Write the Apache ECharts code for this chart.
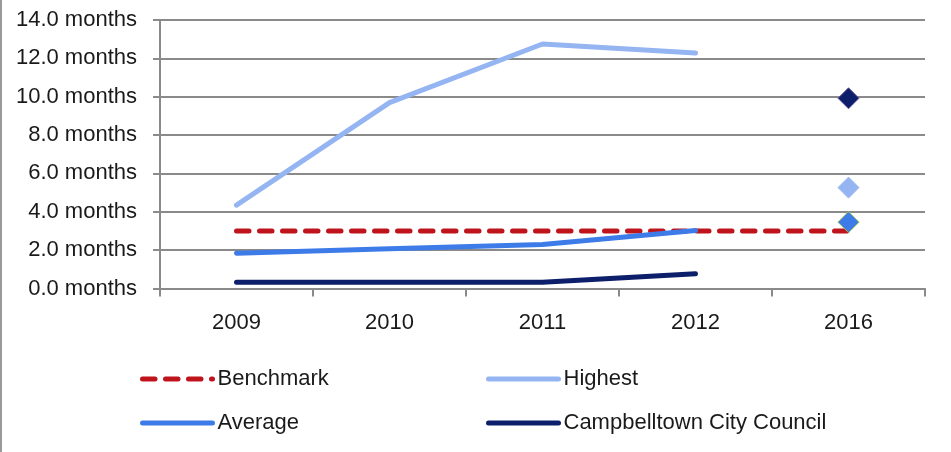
<!DOCTYPE html>
<html>
<head>
<meta charset="utf-8">
<script src="https://cdn.jsdelivr.net/npm/echarts@6/dist/echarts.min.js"></script>
<style>
  html, body { margin: 0; padding: 0; background: #fff; }
  #chart { width: 951px; height: 452px; }
</style>
</head>
<body>
<div id="chart"></div>
<script>
// Years on the category axis
const years = ['2009', '2010', '2011', '2012', '2016'];

// Tick values for the value axis (months)
const yTicks = [0, 2, 4, 6, 8, 10, 12, 14];

// Series values; '-' leaves a category empty so the lines stop at 2012
const benchmark = [3.0, 3.0, 3.0, 3.0, 3.0];
const highest   = [4.35, 9.69, 12.75, 12.28, '-'];
const average   = [1.84, 2.07, 2.30, 3.02, '-'];
const campbell  = [0.32, 0.32, 0.32, 0.77, '-'];

// 2016 values, drawn as single diamond markers
const highest2016  = ['-', '-', '-', '-', 5.26];
const average2016  = ['-', '-', '-', '-', 3.46];
const campbell2016 = ['-', '-', '-', '-', 9.92];

const FONT = '"Liberation Sans", Arial, sans-serif';
const TEXT = '#1a1a1a';
const GRID = '#8a8a8a';
const LINE_W = 5;

const chart = echarts.init(document.getElementById('chart'), null, { renderer: 'canvas' });

function lineSeries(name, data, color, extra) {
  return Object.assign({
    name: name,
    type: 'line',
    data: data,
    symbol: 'none',
    showSymbol: false,
    connectNulls: false,
    color: color,
    lineStyle: { color: color, width: LINE_W, cap: 'round', join: 'round' },
    emphasis: { disabled: true },
    z: 3
  }, extra || {});
}

function diamond(name, data, fill, border) {
  return {
    name: name,
    type: 'scatter',
    data: data,
    symbol: 'diamond',
    symbolSize: 21,
    itemStyle: { color: fill, borderColor: border, borderWidth: 1, opacity: 1 },
    emphasis: { disabled: true },
    z: 5
  };
}

const legendText = { fontFamily: FONT, fontSize: 22, color: TEXT, lineHeight: 22 };

function legendBlock(left, names) {
  return {
    orient: 'vertical',
    left: left,
    top: 368,
    itemWidth: 70,
    itemHeight: 14,
    itemGap: 22,
    padding: 0,
    selectedMode: false,
    textStyle: legendText,
    // line-only keys: hide the marker symbol, keep the series line
    itemStyle: { opacity: 0, borderWidth: 0 },
    lineStyle: { width: LINE_W, cap: 'round' },
    data: names
  };
}

chart.setOption({
  animation: false,
  backgroundColor: '#fff',
  grid: { left: 160, right: 26, top: 20, bottom: 163.5, containLabel: false },
  xAxis: {
    type: 'category',
    data: years,
    boundaryGap: true,
    axisLine: { show: true, lineStyle: { color: GRID, width: 2 } },
    axisTick: { show: true, length: 8, lineStyle: { color: GRID, width: 2 } },
    axisLabel: { margin: 23, fontFamily: FONT, fontSize: 22, color: TEXT },
    splitLine: { show: false }
  },
  yAxis: {
    type: 'value',
    min: yTicks[0],
    max: yTicks[yTicks.length - 1],
    interval: yTicks[1] - yTicks[0],
    axisLine: { show: true, lineStyle: { color: GRID, width: 2 } },
    axisTick: { show: true, length: 7, lineStyle: { color: GRID, width: 2 } },
    axisLabel: {
      margin: 23,
      fontFamily: FONT,
      fontSize: 22,
      color: TEXT,
      formatter: v => v.toFixed(1) + ' months'
    },
    splitLine: { show: true, lineStyle: { color: GRID, width: 2 } }
  },
  legend: [
    legendBlock(140, ['Benchmark', 'Average']),
    legendBlock(486, ['Highest', 'Campbelltown City Council'])
  ],
  graphic: [
    {
      type: 'line',
      shape: { x1: 1, y1: 0, x2: 1, y2: 452 },
      style: { stroke: '#9a9a9a', lineWidth: 2 },
      silent: true
    }
  ],
  series: [
    lineSeries('Benchmark', benchmark, '#C0141C', {
      lineStyle: { color: '#C0141C', width: LINE_W, type: [12.5, 10.5], cap: 'round' },
      z: 2
    }),
    lineSeries('Highest', highest, '#94B4F2'),
    lineSeries('Average', average, '#3D7CE8'),
    lineSeries('Campbelltown City Council', campbell, '#0D1F6A'),
    diamond('Highest 2016', highest2016, '#94B4F2', '#9DB9F2'),
    diamond('Average 2016', average2016, '#3D7CE8', '#9BBB59'),
    diamond('Campbelltown City Council 2016', campbell2016, '#0D1F6A', '#6A58A0')
  ]
});
</script>
</body>
</html>
